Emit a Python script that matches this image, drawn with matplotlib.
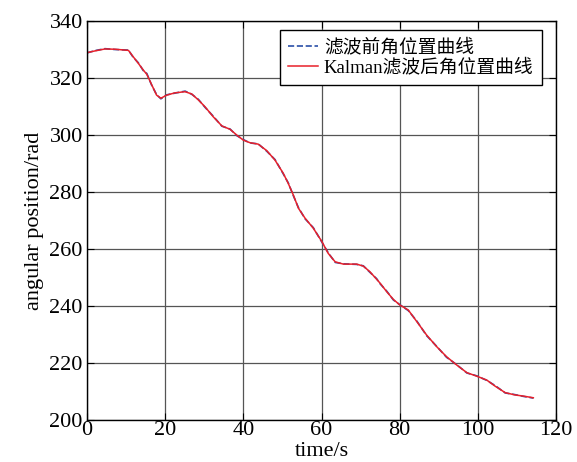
import numpy as np
import matplotlib.pyplot as plt

plt.rcParams['font.family'] = ['Liberation Serif', 'Noto Sans CJK SC']

# sample times (s)
t = [0, 2.0, 4.6, 7.2, 10.6, 11.8, 13.1, 14.4, 15.3, 16.6, 17.8, 18.9, 20.4,
     22.5, 25.1, 26.8, 28.5, 30.2, 32.3, 34.5, 36.6, 38.3, 40.0, 41.7, 43.8,
     46.0, 48.1, 50.2, 51.5, 52.8, 54.1, 55.8, 57.9, 60.1, 61.7, 63.5, 65.6,
     69.0, 70.7, 72.4, 74.1, 75.0, 76.7, 78.4, 80.1, 82.2, 84.4, 86.9, 89.5,
     92.0, 94.6, 97.2, 99.7, 102.3, 104.4, 107.0, 109.5, 111.6, 114.2]

# angle after Kalman filtering (rad)
kal = [328.9, 329.5, 330.2, 330.1, 329.7, 327.5, 325.2, 322.8, 321.3, 317.5,
       314.0, 312.9, 314.0, 314.8, 315.2, 314.4, 312.3, 309.9, 306.4, 303.2,
       302.0, 300.0, 298.2, 297.3, 296.8, 294.5, 291.2, 286.6, 283.0, 278.9,
       274.3, 270.8, 267.3, 262.6, 258.5, 255.5, 254.7, 254.7, 254.0, 252.0,
       249.4, 248.0, 245.0, 242.3, 240.3, 238.6, 234.5, 229.8, 225.7, 222.2,
       219.3, 216.6, 215.4, 214.0, 211.9, 209.6, 208.8, 208.4, 207.8]

# angle before filtering (rad)
raw = [328.8, 329.6, 330.3, 330.0, 329.8, 327.3, 325.4, 322.6, 321.6, 317.3,
       314.2, 312.7, 314.1, 314.7, 315.4, 314.3, 312.5, 309.7, 306.6, 303.1,
       302.1, 299.8, 298.4, 297.2, 296.9, 294.3, 291.4, 286.4, 283.2, 278.7,
       274.5, 270.6, 267.5, 262.4, 258.7, 255.3, 254.8, 254.6, 254.1, 251.8,
       249.6, 247.8, 245.2, 242.1, 240.4, 238.4, 234.7, 229.6, 225.8, 222.0,
       219.4, 216.5, 215.5, 213.9, 212.1, 209.5, 208.9, 208.3, 207.7]

fig = plt.figure(figsize=(5.77, 4.62), dpi=100)
ax = fig.add_axes([0.1508, 0.0909, 0.8128, 0.8636])

ax.plot(t, raw, ls='--', color='#2a4fa8', lw=1.2, label='滤波前角位置曲线')
ax.plot(t, kal, ls='-', color='#e8202a', lw=1.1, label='Kalman滤波后角位置曲线')

ax.set_xlim(0, 120)
ax.set_ylim(200, 340)
ax.set_xticks(np.arange(0, 121, 20))
ax.set_yticks(np.arange(200, 341, 20))
ax.grid(True, ls='-', color='#555555', lw=0.9)
ax.tick_params(direction='in', top=True, right=True, length=5, labelsize=16)
ax.tick_params(axis='x', pad=1)
ax.tick_params(axis='y', pad=3)
for s in ax.spines.values():
    s.set_linewidth(1.0)

ax.set_xlabel('time/s', fontsize=16, labelpad=1)
ax.set_ylabel('angular position/rad', fontsize=16, labelpad=4)

leg = ax.legend(loc='upper right', fontsize=13.5, fancybox=False, framealpha=1,
                edgecolor='black', borderpad=0.45, handlelength=1.6,
                handletextpad=0.3, labelspacing=0.1, borderaxespad=0,
                bbox_to_anchor=(0.970, 0.977))
leg.get_frame().set_linewidth(1.0)

fig.savefig('out.png', dpi=100)
